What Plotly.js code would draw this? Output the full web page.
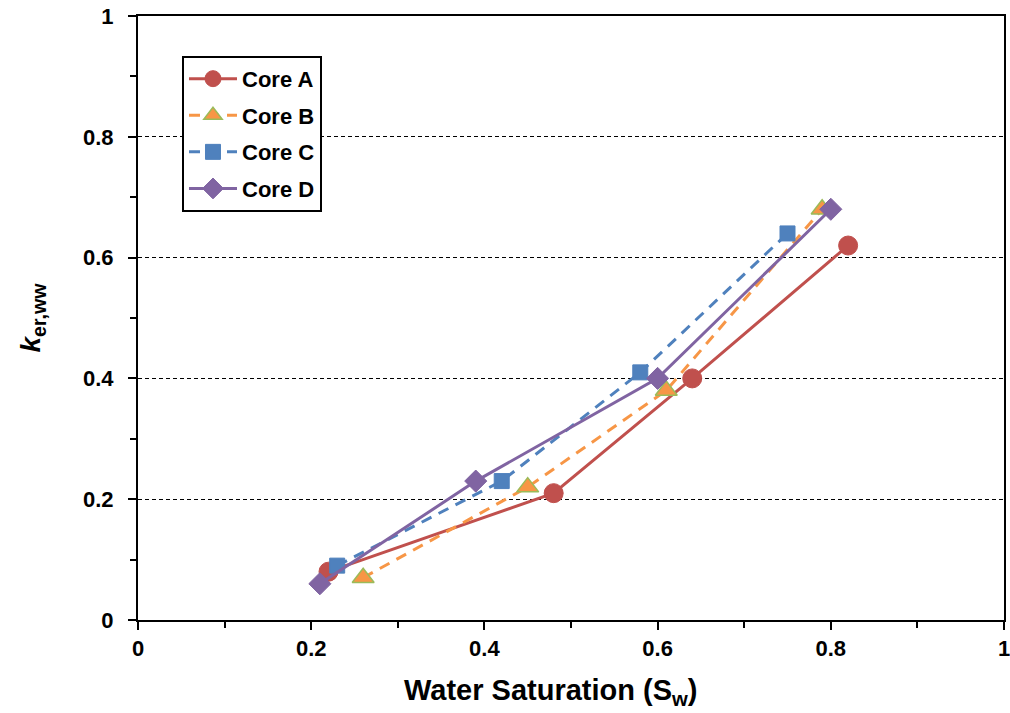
<!DOCTYPE html>
<html>
<head>
<meta charset="utf-8">
<script src="https://cdn.plot.ly/plotly-3.0.1.min.js"></script>
<style>
  html, body { margin: 0; padding: 0; background: #fff; }
  #chart { width: 1010px; height: 713px; }
</style>
</head>
<body>
<div id="chart"></div>
<script>
// Effective relative permeability vs. water saturation for four cores
const coreA_sw = [0.22, 0.48, 0.64, 0.82];
const coreA_k  = [0.08, 0.21, 0.40, 0.62];
const coreB_sw = [0.26, 0.45, 0.61, 0.79];
const coreB_k  = [0.07, 0.22, 0.38, 0.68];
const coreC_sw = [0.23, 0.42, 0.58, 0.75];
const coreC_k  = [0.09, 0.23, 0.41, 0.64];
const coreD_sw = [0.21, 0.39, 0.60, 0.80];
const coreD_k  = [0.06, 0.23, 0.40, 0.68];
const seriesNames = ['Core A', 'Core B', 'Core C', 'Core D'];
const tickVals = [0, 0.2, 0.4, 0.6, 0.8, 1];
const tickText = ['0', '0.2', '0.4', '0.6', '0.8', '1'];

const FONT = 'Arial, "Liberation Sans", sans-serif';

const traces = [
  {
    x: coreA_sw, y: coreA_k, name: seriesNames[0], legendgroup: 'a', mode: 'lines+markers',
    line: { color: '#C0504D', width: 3, dash: 'solid' },
    marker: { symbol: 'circle', size: 19, color: '#C0504D', line: { color: '#C0504D', width: 1 } }
  },
  {
    x: coreB_sw, y: coreB_k, name: seriesNames[1], legendgroup: 'b', mode: 'lines+markers',
    line: { color: '#F79646', width: 3, dash: '11px,8px' },
    marker: { symbol: 'triangle-up', size: 19, color: '#F79646', line: { color: '#9BBB59', width: 1.5 } }
  },
  {
    x: coreC_sw, y: coreC_k, name: seriesNames[2], legendgroup: 'c', mode: 'lines+markers',
    line: { color: '#4F81BD', width: 3, dash: '11px,8px' },
    marker: { symbol: 'square', size: 15, color: '#4F81BD', line: { color: '#4F81BD', width: 1 } }
  },
  {
    x: coreD_sw, y: coreD_k, name: seriesNames[3], legendgroup: 'd', mode: 'lines+markers',
    line: { color: '#8064A2', width: 3, dash: 'solid' },
    marker: { symbol: 'diamond', size: 17, color: '#8064A2', line: { color: '#8064A2', width: 1 } }
  }
];

const layout = {
  width: 1010,
  height: 713,
  margin: { l: 138, r: 6, t: 16, b: 93 },
  paper_bgcolor: '#fff',
  plot_bgcolor: '#fff',
  font: { family: FONT, color: '#000' },
  showlegend: true,
  legend: {
    x: 0.0508, y: 0.934, xanchor: 'left', yanchor: 'top',
    bgcolor: '#fff', bordercolor: '#000', borderwidth: 2,
    font: { family: FONT, size: 22, color: '#000', weight: 'bold' },
    tracegroupgap: 5, itemwidth: 48
  },
  xaxis: {
    range: [0, 1], tickmode: 'array', tickvals: tickVals, ticktext: tickText,
    ticks: 'outside', ticklen: 8, tickwidth: 2, tickcolor: '#000',
    minor: { dtick: 0.1, tick0: 0, ticks: 'outside', ticklen: 6, tickwidth: 2, tickcolor: '#000' },
    showline: true, linecolor: '#000', linewidth: 2, mirror: true,
    showgrid: false, zeroline: false, ticklabeloverflow: 'allow',
    tickfont: { family: FONT, size: 22, color: '#000', weight: 'bold' },
    title: { text: '' }
  },
  yaxis: {
    range: [0, 1], tickmode: 'array', tickvals: tickVals, ticktext: tickText,
    ticks: 'outside', ticklen: 8, tickwidth: 2, tickcolor: '#000',
    minor: { dtick: 0.1, tick0: 0, ticks: 'outside', ticklen: 6, tickwidth: 2, tickcolor: '#000' },
    showline: true, linecolor: '#000', linewidth: 2, mirror: true,
    showgrid: true, gridcolor: '#000', gridwidth: 1, griddash: '4px,3px',
    zeroline: false, ticklabelstandoff: 10, ticklabeloverflow: 'allow',
    tickfont: { family: FONT, size: 22, color: '#000', weight: 'bold' },
    title: {
      text: '<i>k</i><sub>er,ww</sub>',
      font: { family: FONT, size: 28, color: '#000', weight: 'bold' },
      standoff: 34
    }
  },
  annotations: [
    {
      // x-axis title, placed as an annotation so it can sit slightly left of centre
      text: 'Water Saturation (S<sub>w</sub>)',
      xref: 'paper', yref: 'paper', x: 0.476, y: -0.12,
      xanchor: 'center', yanchor: 'middle', showarrow: false,
      font: { family: FONT, size: 29, color: '#000', weight: 'bold' }
    }
  ]
};

Plotly.newPlot('chart', traces, layout, { displayModeBar: false, staticPlot: true });
</script>
</body>
</html>
